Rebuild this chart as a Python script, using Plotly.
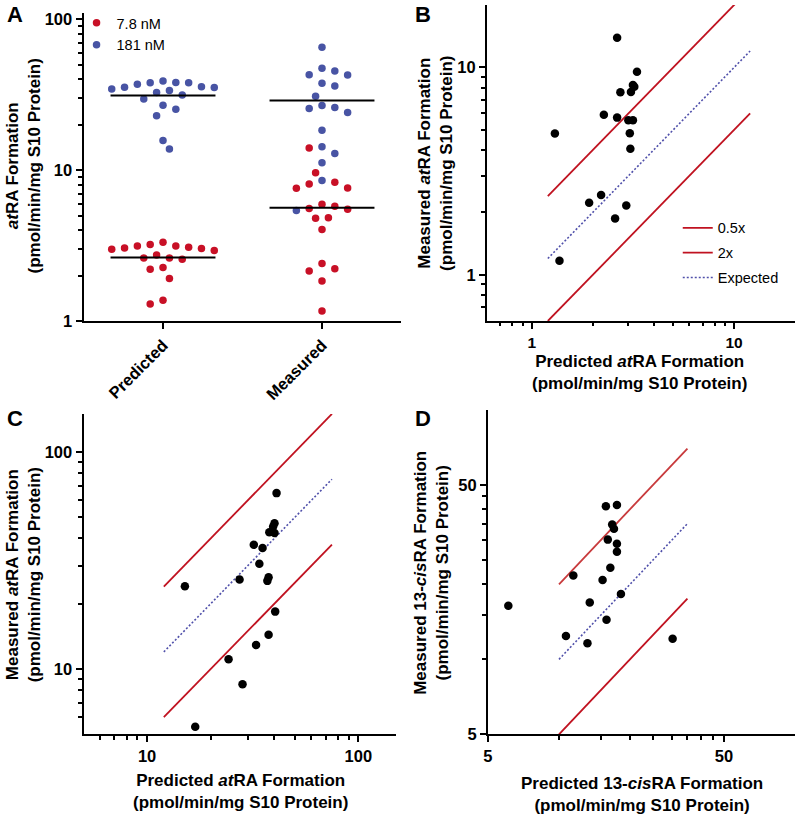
import numpy as np
import plotly.graph_objects as go

# ---------------- Data ----------------
# Panel A (atRA formation, two substrate concentrations)
a_categories = ["Predicted", "Measured"]
a_series_names = ["7.8 nM", "181 nM"]
a_pred_7_8 = [3.09, 3.03, 2.94, 3.33, 3.15, 3.15, 3.22, 3.00, 3.06, 2.62, 2.57, 2.62,
              2.74, 2.21, 2.27, 1.92, 1.38, 1.30]
a_pred_181 = [35.4, 38.9, 34.5, 37.9, 37.0, 35.7, 37.9, 33.7, 38.1, 35.2, 32.7, 29.6,
              31.4, 25.3, 26.9, 22.9, 15.7, 13.8]
a_meas_7_8 = [14.0, 9.61, 8.31, 7.63, 7.60, 8.11, 5.95, 5.57, 5.52, 5.77, 4.80, 4.84,
              4.05, 2.41, 2.15, 2.23, 1.85, 1.17]
a_meas_181 = [65.1, 45.4, 47.3, 42.6, 42.8, 37.6, 36.1, 30.8, 26.8, 25.6, 24.1, 26.0,
              18.4, 14.3, 12.9, 11.2, 8.53, 5.41]

# Panel B (7.8 nM atRA)
b_predicted = [2.64, 3.31, 3.16, 3.21, 2.74, 3.09, 2.27, 2.64, 3.00, 3.16, 1.30, 3.05,
               3.07, 2.20, 1.92, 2.93, 2.58, 1.37]
b_measured = [13.9, 9.53, 8.24, 8.07, 7.59, 7.61, 5.91, 5.73, 5.57, 5.57, 4.80, 4.82,
              4.06, 2.43, 2.23, 2.16, 1.87, 1.17]
b_line_x = [1.2, 12]

# Panel C (181 nM atRA)
c_predicted = [41.0, 40.1, 39.5, 37.9, 40.1, 32.0, 35.2, 34.0, 27.4, 37.6, 37.1, 15.1,
               40.4, 37.6, 32.8, 24.3, 28.3, 16.9]
c_measured = [64.7, 47.0, 45.4, 42.7, 42.4, 37.4, 36.1, 30.6, 25.9, 26.5, 25.5, 24.1,
              18.4, 14.4, 12.9, 11.1, 8.52, 5.42]
c_line_x = [12, 75]

# Panel D (13-cisRA)
d_predicted = [15.8, 17.6, 16.8, 17.1, 16.1, 17.6, 17.6, 16.5, 11.5, 15.3, 18.3, 13.5,
               6.1, 15.9, 10.7, 30.3, 13.2]
d_measured = [41.1, 41.6, 34.7, 33.4, 30.2, 29.1, 27.0, 23.3, 21.7, 20.8, 18.3, 16.9,
              16.4, 14.4, 12.4, 12.1, 11.6]
d_line_x = [10, 35]

ratio_names = ["0.5x", "2x", "Expected"]
ratio_factors = [0.5, 2.0, 1.0]

# Tick definitions
a_y_ticks = [1, 10, 100]
b_ticks = [1, 10]
c_ticks = [10, 100]
d_ticks = [5, 50]
b_minor = [0.7, 0.8, 0.9, 2, 3, 4, 5, 6, 7, 8, 9]
a_minor = [2, 3, 4, 5, 6, 7, 8, 9, 20, 30, 40, 50, 60, 70, 80, 90]
c_minor = [6, 7, 8, 9, 20, 30, 40, 50, 60, 70, 80, 90]
d_minor = [10, 15, 20, 25, 30, 35, 40, 45]

# ---------------- Style / layout ----------------
W, H = 797, 818
RED = "rgb(200,16,38)"
BLUE = "rgb(72,84,164)"
LINE_RED = "rgb(192,18,32)"
LINE_RED_D = "rgb(200,58,60)"
DOT_BLUE = "rgb(80,80,170)"
FONT = "Liberation Sans, Arial, sans-serif"


def xd(px):
    return px / W


def yd(py):
    return 1 - py / H


# beeswarm offsets computed in pixel space (panel A)
A_Y_PX_PER_DEC = 153.5
A_X_PX_PER_UNIT = 160.0
STEP = 6.45
SX = 7.6
SY = 15.0


def swarm(values):
    ys = np.log10(np.asarray(values, dtype=float)) * A_Y_PX_PER_DEC
    order = np.argsort(-ys)
    placed = []
    offs = np.zeros(len(ys))
    flip = 1
    for i in order:
        cands = [0]
        for k in range(1, 40):
            cands += [flip * k, -flip * k]
        for k in cands:
            x = k * STEP
            if all(((x - px) / SX) ** 2 + ((ys[i] - py) / SY) ** 2 >= 1.0 for px, py in placed):
                break
        if k != 0:
            flip = -int(np.sign(k))
        placed.append((x, ys[i]))
        offs[i] = x
    return offs / A_X_PX_PER_UNIT


fig = go.Figure()

# ---- Panel A ----
for ci, (v78, v181) in enumerate([(a_pred_7_8, a_pred_181), (a_meas_7_8, a_meas_181)]):
    allv = list(v78) + list(v181)
    offs = swarm(allv)
    n = len(v78)
    fig.add_trace(go.Scatter(
        x=ci + offs[:n], y=v78, mode="markers", name=a_series_names[0],
        marker=dict(color=RED, size=7.5), xaxis="x", yaxis="y",
        legend="legend", legendgroup="g78", showlegend=(ci == 0), hoverinfo="y"))
    fig.add_trace(go.Scatter(
        x=ci + offs[n:], y=v181, mode="markers", name=a_series_names[1],
        marker=dict(color=BLUE, size=7.5), xaxis="x", yaxis="y",
        legend="legend", legendgroup="g181", showlegend=(ci == 0), hoverinfo="y"))
    for vals in (v78, v181):
        m = float(np.mean(vals))
        fig.add_trace(go.Scatter(
            x=[ci - 0.33, ci + 0.33], y=[m, m], mode="lines",
            line=dict(color="black", width=2), xaxis="x", yaxis="y",
            showlegend=False, hoverinfo="skip"))


# ---- Scatter panels with reference lines ----
def ratio_lines(xs, axx, axy, show, upper_color):
    xs = np.asarray(xs, dtype=float)
    for name, f in zip(ratio_names, ratio_factors):
        if f == 1.0:
            ln = dict(color=DOT_BLUE, width=1.6, dash="2px,2px")
        elif f > 1:
            ln = dict(color=upper_color, width=1.8)
        else:
            ln = dict(color=LINE_RED, width=1.8)
        fig.add_trace(go.Scatter(
            x=xs, y=xs * f, mode="lines", name=name, line=ln,
            xaxis=axx, yaxis=axy, showlegend=show, legend="legend2",
            legendgroup="r" + name, hoverinfo="skip"))


for (px_, py_, lx, axx, axy, show, uc) in [
        (b_predicted, b_measured, b_line_x, "x2", "y2", True, LINE_RED),
        (c_predicted, c_measured, c_line_x, "x3", "y3", False, LINE_RED),
        (d_predicted, d_measured, d_line_x, "x4", "y4", False, LINE_RED_D)]:
    ratio_lines(lx, axx, axy, show, uc)
    fig.add_trace(go.Scatter(
        x=px_, y=py_, mode="markers", marker=dict(color="black", size=8.5),
        xaxis=axx, yaxis=axy, showlegend=False, hoverinfo="x+y"))

tickfont = dict(family=FONT, size=16.5, color="black", weight="bold")


def axis(domain, rng, tickvals, minor_vals=None, typ="log", anchor=None, **kw):
    d = dict(domain=domain, range=rng, type=typ, tickvals=tickvals,
             ticktext=[str(t) for t in tickvals], showline=True, linewidth=2,
             linecolor="black", ticks="outside", ticklen=6, tickwidth=2,
             tickcolor="black", showgrid=False, zeroline=False, tickfont=tickfont,
             anchor=anchor, fixedrange=True)
    if minor_vals is not None:
        d["minor"] = dict(tickvals=minor_vals, ticks="outside", ticklen=3.5,
                          tickwidth=1.5, tickcolor="black", showgrid=False)
    d.update(kw)
    return d


lg = np.log10
layout = dict(
    width=W, height=H, margin=dict(l=0, r=0, t=0, b=0),
    plot_bgcolor="white", paper_bgcolor="white",
    font=dict(family=FONT, color="black"),
    xaxis=axis([xd(79), xd(399)], [-0.5, 1.5], [0, 1], typ="linear", anchor="y",
               ticktext=a_categories, tickangle=-45),
    yaxis=axis([yd(323), yd(10)], [0, lg(110)], a_y_ticks, a_minor, anchor="x"),
    xaxis2=axis([xd(485), xd(795)], [lg(0.6), lg(20)], b_ticks, b_minor, anchor="y2",
                tickfont=dict(family=FONT, size=15.5, color="black", weight="bold")),
    yaxis2=axis([yd(322.7), yd(2)], [lg(0.6), lg(20)], b_ticks, b_minor, anchor="x2"),
    xaxis3=axis([xd(79), xd(393)], [lg(5), lg(150)], c_ticks, c_minor, anchor="y3"),
    yaxis3=axis([yd(742.3), yd(417)], [lg(5), lg(150)], c_ticks, c_minor, anchor="x3"),
    xaxis4=axis([xd(486), xd(795)], [lg(5), lg(100)], d_ticks, d_minor, anchor="y4"),
    yaxis4=axis([yd(742.3), yd(413)], [lg(5), lg(100)], d_ticks, d_minor, anchor="x4"),
    legend=dict(x=xd(72), y=yd(4), xanchor="left", yanchor="top",
                font=dict(family=FONT, size=14.5, color="black"),
                bgcolor="rgba(0,0,0,0)", tracegroupgap=0, itemwidth=30),
    legend2=dict(x=xd(677), y=yd(212), xanchor="left", yanchor="top",
                 font=dict(family=FONT, size=14.5, color="black"),
                 bgcolor="rgba(0,0,0,0)", tracegroupgap=3, itemwidth=30),
    showlegend=True,
)
fig.update_layout(**layout)

title_font = dict(family=FONT, size=17, color="black", weight="bold")
annots = [
    # panel letters
    dict(text="A", x=xd(10), y=yd(12)),
    dict(text="B", x=xd(421), y=yd(12)),
    dict(text="C", x=xd(10), y=yd(422)),
    dict(text="D", x=xd(421), y=yd(422)),
]
letters = [dict(a, xref="paper", yref="paper", showarrow=False, xanchor="center",
                yanchor="middle", font=dict(family=FONT, size=22, color="black", weight="bold"))
           for a in annots]

titles = [
    dict(text="<i>at</i>RA Formation<br>(pmol/min/mg S10 Protein)", x=xd(19), y=yd(165),
         textangle=-90),
    dict(text="Measured <i>at</i>RA Formation<br>(pmol/min/mg S10 Protein)", x=xd(433),
         y=yd(163), textangle=-90),
    dict(text="Predicted <i>at</i>RA Formation<br>(pmol/min/mg S10 Protein)", x=xd(639),
         y=yd(375), textangle=0),
    dict(text="Measured <i>at</i>RA Formation<br>(pmol/min/mg S10 Protein)", x=xd(19),
         y=yd(580), textangle=-90),
    dict(text="Predicted <i>at</i>RA Formation<br>(pmol/min/mg S10 Protein)", x=xd(237),
         y=yd(800), textangle=0),
    dict(text="Measured 13-<i>cis</i>RA Formation<br>(pmol/min/mg S10 Protein)", x=xd(429),
         y=yd(578), textangle=-90),
    dict(text="Predicted 13-<i>cis</i>RA Formation<br>(pmol/min/mg S10 Protein)", x=xd(641),
         y=yd(803), textangle=0),
]
titles = [dict(t, xref="paper", yref="paper", showarrow=False, xanchor="center",
               yanchor="middle", font=title_font) for t in titles]
fig.update_layout(annotations=letters + titles)

fig.write_html("out.html", config={"displayModeBar": False},
               post_script="document.body.style.margin='0';")
